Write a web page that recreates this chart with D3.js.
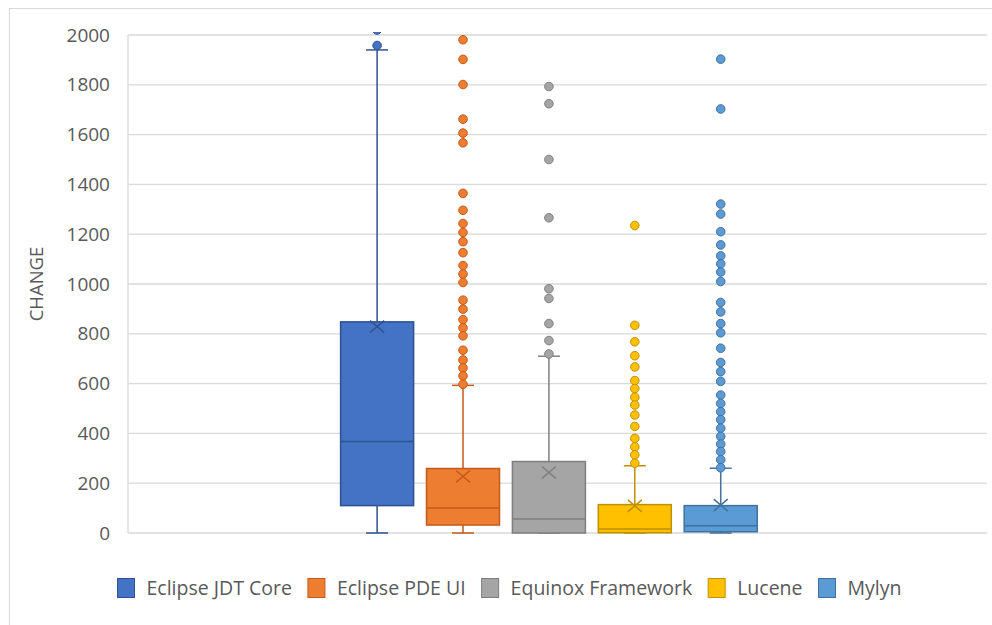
<!DOCTYPE html>
<html>
<head>
<meta charset="utf-8">
<script src="https://cdn.jsdelivr.net/npm/d3@7"></script>
<style>
  html, body { margin: 0; padding: 0; background: #ffffff; }
  svg { display: block; }
  text { font-family: "Open Sans", "Noto Sans", sans-serif; fill: #595959; }
</style>
</head>
<body>
<svg id="chart" width="992" height="625"></svg>
<script>
// Series and their summary statistics (CHANGE per project)
const seriesNames = ["Eclipse JDT Core", "Eclipse PDE UI", "Equinox Framework", "Lucene", "Mylyn"];
const fillColors   = ["#4472C4", "#ED7D31", "#A5A5A5", "#FFC000", "#5B9BD5"];
const strokeColors = ["#2F528F", "#C45A1C", "#7F7F7F", "#BF9000", "#41719C"];

const q1Values      = [110, 32, 0, 1, 5];
const medianValues  = [367, 100, 56, 16, 29];
const q3Values      = [848, 259, 287, 114, 110];
const meanValues    = [829, 227, 243, 109, 112];
const whiskerLow    = [0, 0, 0, 0, 0];
const whiskerHigh   = [1940, 593, 710, 270, 260];

const outliersJDT     = [1958, 2020];
const outliersPDE     = [1981, 1902, 1801, 1662, 1606, 1567, 1364, 1296, 1243, 1207, 1170, 1126,
                         1074, 1040, 1006, 935, 899, 857, 824, 792, 734, 695, 663, 631, 597];
const outliersEquinox = [1793, 1724, 1500, 1266, 981, 942, 841, 773, 719];
const outliersLucene  = [1235, 834, 768, 712, 667, 612, 580, 545, 514, 474, 428, 380, 346, 314, 280];
const outliersMylyn   = [1903, 1703, 1321, 1281, 1210, 1157, 1113, 1081, 1048, 1010, 926, 888, 841,
                         804, 742, 685, 648, 609, 554, 520, 487, 455, 421, 388, 357, 327, 294, 262];
const outlierLists = [outliersJDT, outliersPDE, outliersEquinox, outliersLucene, outliersMylyn];

const yTicks = [0, 200, 400, 600, 800, 1000, 1200, 1400, 1600, 1800, 2000];
const yTitle = "CHANGE";

// Layout
const W = 992, H = 625;
const plot = { left: 128, right: 987, top: 35, bottom: 533 };
const plotW = plot.right - plot.left;

const svg = d3.select("#chart");

// Outer chart frame
svg.append("rect")
  .attr("x", 9.5).attr("y", 8.5)
  .attr("width", W + 10).attr("height", H + 10)
  .attr("fill", "none").attr("stroke", "#d9d9d9").attr("stroke-width", 1);

const y = d3.scaleLinear().domain([0, 2000]).range([plot.bottom, plot.top]);

// One category group; the five series sit side by side within it
const x = d3.scaleBand().domain(seriesNames)
  .range([plot.left + 0.24 * plotW, plot.right - 0.26 * plotW])
  .paddingInner(0.15).paddingOuter(0.075);
const cx = name => x(name) + x.bandwidth() / 2;
const boxW = x.bandwidth();
const capW = 22;

// Gridlines
svg.append("g")
  .selectAll("line")
  .data(yTicks)
  .join("line")
  .attr("x1", plot.left).attr("x2", plot.right)
  .attr("y1", d => y(d)).attr("y2", d => y(d))
  .attr("stroke", "#d9d9d9").attr("stroke-width", 1.3);

// Left edge of the plot area
svg.append("line")
  .attr("x1", plot.left).attr("x2", plot.left)
  .attr("y1", y(2000)).attr("y2", y(0))
  .attr("stroke", "#d9d9d9").attr("stroke-width", 1.3);

// Y axis labels
const yAxis = d3.axisLeft(y).tickValues(yTicks).tickSize(0).tickPadding(18).tickFormat(d3.format("d"));
const yAxisG = svg.append("g").attr("transform", `translate(${plot.left},0)`).call(yAxis);
yAxisG.select(".domain").remove();
yAxisG.selectAll("text")
  .style("font-family", '"Open Sans", "Noto Sans", sans-serif')
  .style("font-size", "19px")
  .attr("fill", "#595959");

// Y axis title
svg.append("text")
  .attr("transform", `translate(43, ${(plot.top + plot.bottom) / 2}) rotate(-90)`)
  .attr("text-anchor", "middle")
  .style("font-size", "18.5px")
  .text(yTitle);

// Clip for marks that run past the top of the axis
svg.append("clipPath").attr("id", "plotClip")
  .append("rect")
  .attr("x", plot.left).attr("y", plot.top - 3)
  .attr("width", plotW).attr("height", plot.bottom - plot.top + 6);

const marks = svg.append("g").attr("clip-path", "url(#plotClip)");

seriesNames.forEach((name, i) => {
  const g = marks.append("g");
  const c = cx(name);
  const fill = fillColors[i], stroke = strokeColors[i];

  // Whiskers
  g.append("line")
    .attr("x1", c).attr("x2", c)
    .attr("y1", y(q3Values[i])).attr("y2", y(whiskerHigh[i]))
    .attr("stroke", stroke).attr("stroke-width", 1.5);
  g.append("line")
    .attr("x1", c).attr("x2", c)
    .attr("y1", y(q1Values[i])).attr("y2", y(whiskerLow[i]))
    .attr("stroke", stroke).attr("stroke-width", 1.5);
  [whiskerHigh[i], whiskerLow[i]].forEach(v => {
    g.append("line")
      .attr("x1", c - capW / 2).attr("x2", c + capW / 2)
      .attr("y1", y(v)).attr("y2", y(v))
      .attr("stroke", stroke).attr("stroke-width", 1.5);
  });

  // Box
  g.append("rect")
    .attr("x", x(name)).attr("width", boxW)
    .attr("y", y(q3Values[i]))
    .attr("height", Math.max(0, y(q1Values[i]) - y(q3Values[i])))
    .attr("fill", fill).attr("stroke", stroke).attr("stroke-width", 1.5);

  // Median
  g.append("line")
    .attr("x1", x(name)).attr("x2", x(name) + boxW)
    .attr("y1", y(medianValues[i])).attr("y2", y(medianValues[i]))
    .attr("stroke", stroke).attr("stroke-width", 1.5);

  // Mean marker
  const my = y(meanValues[i]), s = 7;
  g.append("path")
    .attr("d", `M${c - s},${my - s * 0.85}L${c + s},${my + s * 0.85}M${c - s},${my + s * 0.85}L${c + s},${my - s * 0.85}`)
    .attr("stroke", stroke).attr("stroke-width", 1.5).attr("fill", "none");

  // Outliers
  g.selectAll("circle")
    .data(outlierLists[i])
    .join("circle")
    .attr("cx", c).attr("cy", d => y(d)).attr("r", 4.3)
    .attr("fill", fill).attr("stroke", stroke).attr("stroke-width", 1);
});

// Legend
const legend = svg.append("g");
let lx = 0;
seriesNames.forEach((name, i) => {
  const item = legend.append("g").attr("transform", `translate(${lx},0)`);
  item.append("rect")
    .attr("x", 0).attr("y", -9.5).attr("width", 17).attr("height", 19)
    .attr("fill", fillColors[i]).attr("stroke", strokeColors[i]).attr("stroke-width", 1);
  const t = item.append("text")
    .attr("x", 29).attr("y", 0).attr("dy", "0.35em")
    .style("font-size", "19.5px")
    .text(name);
  lx += 29 + t.node().getComputedTextLength() + 16;
});
const legendW = lx - 16;
legend.attr("transform", `translate(${(113 + 906) / 2 - legendW / 2},588)`);
</script>
</body>
</html>
